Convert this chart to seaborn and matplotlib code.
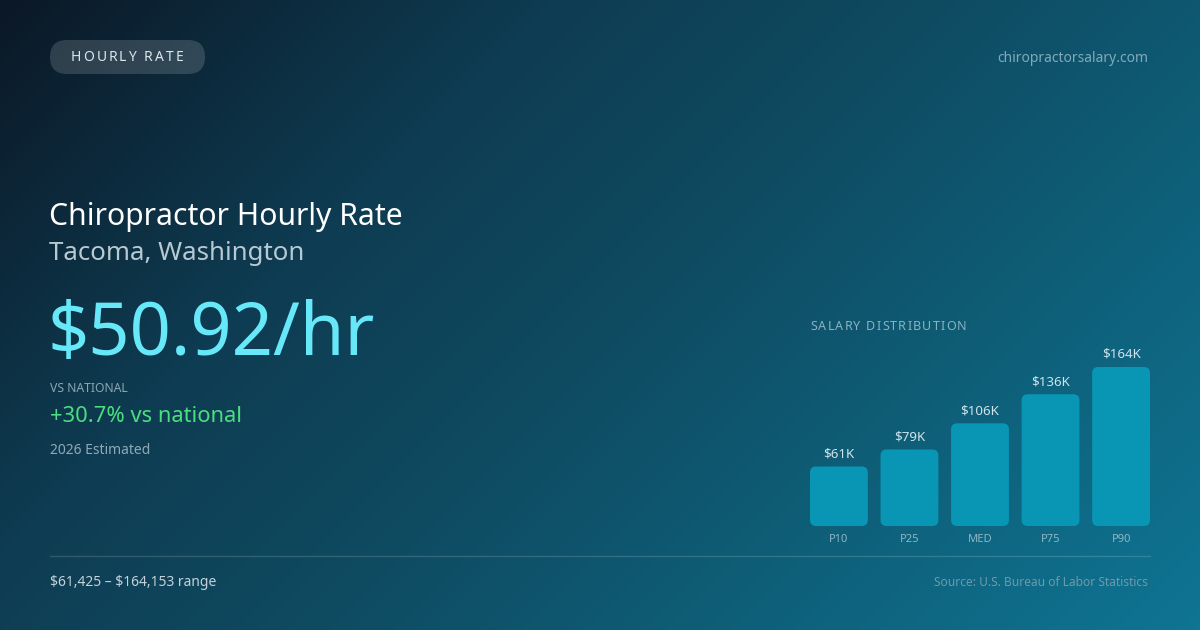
import numpy as np
import pandas as pd
import matplotlib
matplotlib.use("Agg")
import matplotlib.pyplot as plt
import seaborn as sns
from matplotlib.patches import FancyBboxPatch
from matplotlib.colors import LinearSegmentedColormap

# ---- data ----
categories = ["P10", "P25", "MED", "P75", "P90"]
salaries = [61425, 79000, 106000, 136000, 164153]
value_labels = ["$61K", "$79K", "$106K", "$136K", "$164K"]
badge_text = "HOURLY RATE"
site_text = "chiropractorsalary.com"
title_text = "Chiropractor Hourly Rate"
location_text = "Tacoma, Washington"
rate_text = "$50.92/hr"
vs_label = "VS NATIONAL"
vs_text = "+30.7% vs national"
est_text = "2026 Estimated"
dist_title = "SALARY DISTRIBUTION"
range_text = "\\$61,425 \u2013 \\$164,153 range"
source_text = "Source: U.S. Bureau of Labor Statistics"

sns.set_theme(style="white")
plt.rcParams["font.family"] = ["Noto Sans", "DejaVu Sans"]

W, H = 1200, 630
fig = plt.figure(figsize=(W / 100, H / 100), dpi=100)

# background axes in pixel coordinates
bg = fig.add_axes([0, 0, 1, 1])
bg.set_xlim(0, W)
bg.set_ylim(H, 0)
bg.axis("off")

xx, yy = np.meshgrid(np.arange(W), np.arange(H))
t = (xx + yy) / (W + H)
cmap = LinearSegmentedColormap.from_list(
    "bgg",
    [(0.0, "#0b1826"), (0.3, "#0e3c52"), (0.5, "#0f4a60"), (1.0, "#0e7593")],
)
bg.imshow(t, cmap=cmap, extent=(0, W, H, 0), aspect="auto", zorder=0, vmin=0, vmax=1)

renderer = fig.canvas.get_renderer()


def char_adv(ch, **kw):
    t1 = bg.text(0, 0, "H" + ch + "H", **kw)
    t2 = bg.text(0, 0, "HH", **kw)
    w = t1.get_window_extent(renderer).width - t2.get_window_extent(renderer).width
    t1.remove()
    t2.remove()
    return w


def spaced(x, y, s, spacing, ha="left", **kw):
    advs = [char_adv(c, **kw) for c in s]
    total = sum(advs) + spacing * (len(s) - 1)
    if ha == "center":
        x = x - total / 2
    for c, a in zip(s, advs):
        if c != " ":
            bg.text(x, y, c, ha="left", va="center", **kw)
        x += a + spacing


# pill badge
pill = FancyBboxPatch((50, 40), 155, 34, boxstyle="round,pad=0,rounding_size=17",
                      facecolor="#ffffff", alpha=0.15, edgecolor="none", zorder=2)
bg.add_patch(pill)
spaced(127, 57.5, badge_text, 2.0, ha="center", fontsize=10, color="#dce6ea", zorder=3)

bg.text(1148, 58, site_text, ha="right", va="center", fontsize=10, color="#80aabb")

bg.text(49, 216.5, title_text, ha="left", va="center", fontsize=21.7, color="#ffffff")
bg.text(49, 253, location_text, ha="left", va="center", fontsize=18.6, color="#b7c9d3")
bg.text(48, 336, rate_text, ha="left", va="center", fontsize=52, color="#67e8f9")
bg.text(50, 388.5, vs_label, ha="left", va="center", fontsize=8.8, color="#8aa6b4")
bg.text(50, 416, vs_text, ha="left", va="center", fontsize=15.8, color="#4ade80")
bg.text(50, 451, est_text, ha="left", va="center", fontsize=10, color="#90a9b6")

spaced(810, 326.5, dist_title, 1.2, fontsize=9, color="#8ab2c2")

bg.plot([50, 1150], [556, 556], color="#ffffff", alpha=0.15, lw=1)
bg.text(50, 583, range_text, ha="left", va="center", fontsize=10, color="#c3d2da")
bg.text(1148, 583, source_text, ha="right", va="center", fontsize=8.6, color="#6f99aa")

# bar chart axes
ax_left, ax_right, ax_bottom, ax_top = 810, 1150, 526, 367
ax = fig.add_axes([ax_left / W, (H - ax_bottom) / H, (ax_right - ax_left) / W,
                   (ax_bottom - ax_top) / H])
ax.patch.set_alpha(0)
df = pd.DataFrame({"pct": categories, "salary": salaries})
sns.barplot(data=df, x="pct", y="salary", ax=ax, color="#0996b4", saturation=1,
            width=0.82)
ax.set_xlim(-0.41, len(categories) - 1 + 0.41)
ax.set_ylim(0, max(salaries))
for s in ax.spines.values():
    s.set_visible(False)
ax.set_xticks([])
ax.set_yticks([])
ax.set_xlabel("")
ax.set_ylabel("")

# rounded bars
xunit_per_px = (ax.get_xlim()[1] - ax.get_xlim()[0]) / (ax_right - ax_left)
yunit_per_px = max(salaries) / (ax_bottom - ax_top)
aspect = yunit_per_px / xunit_per_px
for p in list(ax.patches):
    x0, y0, w, h = p.get_x(), p.get_y(), p.get_width(), p.get_height()
    fc = p.get_facecolor()
    p.remove()
    rb = FancyBboxPatch((x0, y0), w, h,
                        boxstyle=f"round,pad=0,rounding_size={6 * xunit_per_px}",
                        mutation_aspect=aspect, facecolor=fc, edgecolor="none",
                        clip_on=False)
    ax.add_patch(rb)

for i, (v, lab) in enumerate(zip(salaries, value_labels)):
    ax.annotate(lab, (i, v), xytext=(0, 9.0), textcoords="offset points",
                ha="center", va="center", fontsize=9.6, color="#cfe4ec",
                annotation_clip=False)
    ax.annotate(categories[i], (i, 0), xytext=(0, -10.0), textcoords="offset points",
                ha="center", va="center", fontsize=8, color="#8fb6c6",
                annotation_clip=False)

fig.savefig("out.png", dpi=100)
